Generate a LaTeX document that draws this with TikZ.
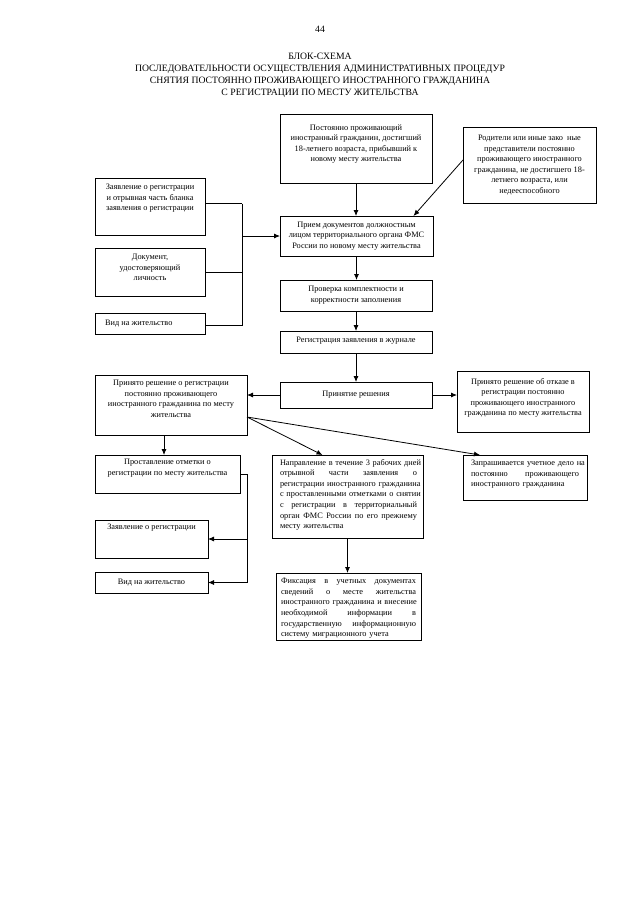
\documentclass[tikz,border=0pt]{standalone}
\usepackage{fontspec}
\setmainfont{Liberation Serif}
\usetikzlibrary{arrows.meta,calc}
\newcommand\myboxfont{\fontsize{8.3}{10.6}\selectfont}
\newcommand\mytitlefont{\fontsize{9.7}{11.8}\selectfont}
\newcommand\jl[1]{\makebox[\hsize][s]{\spaceskip=0.3333em plus 10em\relax #1}}
\newcommand\mybox[5]{%
  \node[box, minimum width={(#4-#2)*1pt}, minimum height={(#5-#3)*1pt}] (#1) at ({(#2+#4)/2},{(#3+#5)/2}) {};}
\tikzset{
  box/.style={draw, line width=1pt, inner sep=0pt, outer sep=0pt},
  txt/.style={font=\myboxfont, inner sep=0pt, align=center},
  jtxt/.style={font=\myboxfont, inner sep=0pt, align=left, anchor=north},
  arr/.style={line width=0.8pt, -{Latex[length=6pt,width=5pt]}},
  ln/.style={line width=0.8pt}
}
\begin{document}
\begin{tikzpicture}[x=1pt,y=-1pt]
\fill[white] (0,0) rectangle (640,905);
\useasboundingbox (0,0) rectangle (640,905);

% page number and title
\node[font=\mytitlefont, inner sep=0pt] (pnum) at (320,29) {44};
\node[font=\mytitlefont, inner sep=0pt, align=center] (title) at (320,75.5) {БЛОК-СХЕМА\\
ПОСЛЕДОВАТЕЛЬНОСТИ ОСУЩЕСТВЛЕНИЯ АДМИНИСТРАТИВНЫХ ПРОЦЕДУР\\
СНЯТИЯ ПОСТОЯННО ПРОЖИВАЮЩЕГО ИНОСТРАННОГО ГРАЖДАНИНА\\
С РЕГИСТРАЦИИ ПО МЕСТУ ЖИТЕЛЬСТВА};

% boxes
\mybox{top}{280}{114}{432}{183}
\mybox{rod}{463}{127}{596}{203}
\mybox{L1}{95}{178}{205}{235}
\mybox{L2}{95}{248}{205}{296}
\mybox{L3}{95}{313}{205}{334}
\mybox{priem}{280}{216}{433}{256}
\mybox{prov}{280}{280}{432}{311}
\mybox{reg}{280}{331}{432}{353}
\mybox{prin}{280}{382}{432}{408}
\mybox{ld}{95}{375}{247}{435}
\mybox{rd}{457}{371}{589}{432}
\mybox{prost}{95}{455}{240}{493}
\mybox{zay}{95}{520}{208}{558}
\mybox{vid}{95}{572}{208}{593}
\mybox{napr}{272}{455}{423}{538}
\mybox{zapr}{463}{455}{587}{500}
\mybox{fix}{276}{573}{421}{640}

% texts
\node[txt] (topT) at (356,144) {Постоянно проживающий\\иностранный гражданин, достигший\\18-летнего возраста, прибывший к\\новому месту жительства};
\node[txt] (rodT) at (529.5,165) {Родители или иные зако~~ные\\представители постоянно\\проживающего иностранного\\гражданина, не достигшего 18-\\летнего возраста, или\\недееспособного};
\node[txt, anchor=north] (L1T) at (150,184) {Заявление о регистрации\\и отрывная часть бланка\\заявления о регистрации};
\node[txt, anchor=north] (L2T) at (150,254) {Документ,\\удостоверяющий\\личность};
\node[txt, anchor=west] (L3T) at (105,323.5) {Вид на жительство};
\node[txt] (priemT) at (356.5,236) {Прием документов должностным\\лицом территориального органа ФМС\\России по новому месту жительства};
\node[txt] (provT) at (356,295) {Проверка комплектности и\\корректности заполнения};
\node[txt] (regT) at (356,341) {Регистрация заявления в журнале};
\node[txt] (prinT) at (356,395) {Принятие решения};
\node[txt, anchor=north] (ldT) at (171,380) {Принято решение о регистрации\\постоянно проживающего\\иностранного гражданина по месту\\жительства};
\node[txt] (rdT) at (523,398) {Принято решение об отказе в\\регистрации постоянно\\проживающего иностранного\\гражданина по месту жительства};
\node[txt, anchor=north] (prostT) at (167.5,459) {Проставление отметки о\\регистрации по месту жительства};
\node[txt, anchor=north] (zayT) at (151.5,524) {Заявление о регистрации};
\node[txt] (vidT) at (151.5,582.5) {Вид на жительство};
\node[jtxt, text width=137pt] (naprT) at (348.5,459) {\jl{Направление в течение 3 рабочих дней}\\
\jl{отрывной части заявления о}\\
\jl{регистрации иностранного гражданина}\\
\jl{с проставленными отметками о снятии}\\
\jl{с регистрации в территориальный}\\
\jl{орган ФМС России по его прежнему}\\
месту жительства};
\node[jtxt, text width=108pt] (zaprT) at (525,460) {\jl{Запрашивается учетное дело на}\\
\jl{постоянно проживающего}\\
иностранного гражданина};
\node[jtxt, text width=135pt] (fixT) at (348.5,578) {\jl{Фиксация в учетных документах}\\
\jl{сведений о месте жительства}\\
\jl{иностранного гражданина и внесение}\\
\jl{необходимой информации в}\\
\jl{государственную информационную}\\
систему миграционного учета};

% connectors
\coordinate (busA) at (242,0);
\coordinate (busB) at (247,0);
\draw[arr] (top.south) -- (top.south |- priem.north);
\draw[arr] ([yshift=5pt]rod.west) -- ([xshift=57pt]priem.north);
\draw[ln] ([yshift=3pt]L1.east) -- ([yshift=3pt]L1.east -| busA);
\draw[ln] (L2.east) -- (L2.east -| busA);
\draw[ln] ([yshift=-2pt]L3.east) -- ([yshift=-2pt]L3.east -| busA);
\draw[ln] ([yshift=3pt]L1.east -| busA) -- ([yshift=-2pt]L3.east -| busA);
\draw[arr] (priem.west -| busA) -- (priem.west);
\draw[arr] (priem.south) -- (priem.south |- prov.north);
\draw[arr] (prov.south) -- (prov.south |- reg.north);
\draw[arr] (reg.south) -- (reg.south |- prin.north);
\draw[arr] (prin.west) -- (prin.west -| ld.east);
\draw[arr] (prin.east) -- (prin.east -| rd.west);
\draw[arr] ([xshift=-7pt]ld.south) -- ([xshift=-7pt]ld.south |- prost.north);
\draw[arr] ([yshift=-12pt]ld.east) -- ([xshift=-25pt]napr.north);
\draw[arr] ([yshift=-12pt]ld.east) -- ([xshift=-45pt]zapr.north);
\draw[arr] (prost.east) -- (prost.east -| busB) |- (vid.east);
\draw[arr] (zay.east -| busB) -- (zay.east);
\draw[arr] (napr.south) -- (napr.south |- fix.north);
\end{tikzpicture}
\end{document}
